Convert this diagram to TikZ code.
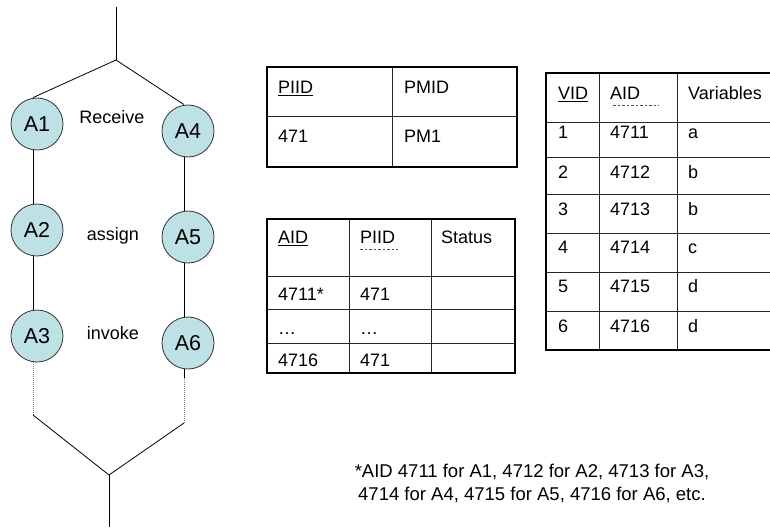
\documentclass[tikz,border=0pt]{standalone}
\usepackage{fontspec}
\setmainfont{Liberation Sans}
\definecolor{actfill}{RGB}{189,225,229}
\definecolor{actline}{RGB}{50,50,50}
\begin{document}
\begin{tikzpicture}[x=1pt,y=-1pt,
  act/.style={circle, draw=actline, line width=0.8pt, fill=actfill, minimum size=52pt, inner sep=0pt, font=\fontsize{21.5}{21.5}\selectfont},
  lbl/.style={inner sep=0pt, font=\fontsize{18}{18}\selectfont},
  cell/.style={anchor=base west, inner sep=0pt, font=\fontsize{18}{18}\selectfont},
  foot/.style={anchor=base, inner sep=0pt, font=\fontsize{18.5}{18.5}\selectfont},
  wire/.style={line width=0.8pt, black},
  dotwire/.style={line width=0.8pt, gray, dash pattern=on 1pt off 1pt},
  outer/.style={line width=2.5pt, black},
  inner/.style={line width=0.8pt, black!85},
  uline/.style={line width=0.8pt, black},
  dline/.style={line width=0.7pt, black!70, dash pattern=on 2.5pt off 2pt}
]
\useasboundingbox (0,0) rectangle (770,527);

% ---------- process flow ----------
\node[act] (A1) at (37,124) {A1};
\node[act] (A2) at (37,230) {A2};
\node[act] (A3) at (37,336) {A3};
\node[act] (A4) at (188,131) {A4};
\node[act] (A5) at (188,237) {A5};
\node[act] (A6) at (188,343) {A6};

\node[lbl] (rcv) at (112,117) {Receive};
\node[lbl] (asg) at (113,236) {assign};
\node[lbl] (inv) at (113,333) {invoke};

\coordinate (start) at (116,7);
\coordinate (fork) at (116,60);
\coordinate (jl) at (33,415);
\coordinate (r1) at (184,378);
\coordinate (jr) at (184,423);
\coordinate (merge) at (109,475);
\coordinate (finish) at (109,527);

\draw[wire] (start) -- (fork);
\draw[wire] (fork) -- ([xshift=-4pt]A1.north);
\draw[wire] (fork) -- ([xshift=-4pt]A4.north);
\draw[wire] ([xshift=-4pt]A1.south) -- ([xshift=-4pt]A2.north);
\draw[wire] ([xshift=-4pt]A2.south) -- ([xshift=-4pt]A3.north);
\draw[wire] ([xshift=-4pt]A4.south) -- ([xshift=-4pt]A5.north);
\draw[wire] ([xshift=-4pt]A5.south) -- ([xshift=-4pt]A6.north);
\draw[dotwire] ([xshift=-4pt]A3.south) -- (jl);
\draw[wire] ([xshift=-4pt]A6.south) -- (r1);
\draw[dotwire] (r1) -- (jr);
\draw[wire] (jl) -- (merge);
\draw[wire] (jr) -- (merge);
\draw[wire] (merge) -- (finish);

% ---------- table PIID / PMID ----------
\draw[inner] (392,67) -- (392,167);
\draw[inner] (267,116) -- (517,116);
\draw[outer] (267,67) rectangle (517,167);
\node[cell] (p11) at (278,93) {PIID};
\node[cell] (p12) at (404,93) {PMID};
\node[cell] (p21) at (278,142) {471};
\node[cell] (p22) at (404,142) {PM1};
\draw[uline] ([yshift=-2.5pt]p11.base west) -- ([yshift=-2.5pt]p11.base east);

% ---------- table AID / PIID / Status ----------
\draw[inner] (349,219) -- (349,373);
\draw[inner] (431,219) -- (431,373);
\draw[inner] (267,276) -- (515,276);
\draw[inner] (267,309) -- (515,309);
\draw[inner] (267,343) -- (515,343);
\draw[outer] (267,219) rectangle (515,373);
\node[cell] (a11) at (278,243) {AID};
\node[cell] (a12) at (360,243) {PIID};
\node[cell] (a13) at (441,243) {Status};
\node[cell] (a21) at (278,300) {4711*};
\node[cell] (a22) at (360,300) {471};
\node[cell] (a31) at (278,334) {…};
\node[cell] (a32) at (360,334) {…};
\node[cell] (a41) at (278,366) {4716};
\node[cell] (a42) at (360,366) {471};
\draw[uline] ([yshift=-2.5pt]a11.base west) -- ([yshift=-2.5pt]a11.base east);
\draw[dline] ([yshift=-6pt]a12.base west) -- ([yshift=-6pt,xshift=3pt]a12.base east);

% ---------- table VID / AID / Variables ----------
\draw[inner] (599,73) -- (599,350);
\draw[inner] (677,73) -- (677,350);
\foreach \yy in {122,157,194,233,272,311}{
  \draw[inner] (546,\yy) -- (775,\yy);
}
\draw[outer] (546,73) rectangle (780,350);
\node[cell] (v01) at (558,99) {VID};
\node[cell] (v02) at (610,99) {AID};
\node[cell] (v03) at (688,99) {Variables};
\draw[uline] ([yshift=-2.5pt]v01.base west) -- ([yshift=-2.5pt]v01.base east);
\draw[dline] ([yshift=-6pt,xshift=3pt]v02.base west) -- ([yshift=-6pt,xshift=18pt]v02.base east);
\node[cell] (v11) at (558,138) {1};
\node[cell] (v12) at (610,138) {4711};
\node[cell] (v13) at (688,138) {a};
\node[cell] (v21) at (558,178) {2};
\node[cell] (v22) at (610,178) {4712};
\node[cell] (v23) at (688,178) {b};
\node[cell] (v31) at (558,215) {3};
\node[cell] (v32) at (610,215) {4713};
\node[cell] (v33) at (688,215) {b};
\node[cell] (v41) at (558,253) {4};
\node[cell] (v42) at (610,253) {4714};
\node[cell] (v43) at (688,253) {c};
\node[cell] (v51) at (558,292) {5};
\node[cell] (v52) at (610,292) {4715};
\node[cell] (v53) at (688,292) {d};
\node[cell] (v61) at (558,332) {6};
\node[cell] (v62) at (610,332) {4716};
\node[cell] (v63) at (688,332) {d};

% ---------- footnote ----------
\node[foot] (f1) at (532,477) {*AID 4711 for A1, 4712 for A2, 4713 for A3,};
\node[foot] (f2) at (532,500) {4714 for A4, 4715 for A5, 4716 for A6, etc.};
\end{tikzpicture}
\end{document}
